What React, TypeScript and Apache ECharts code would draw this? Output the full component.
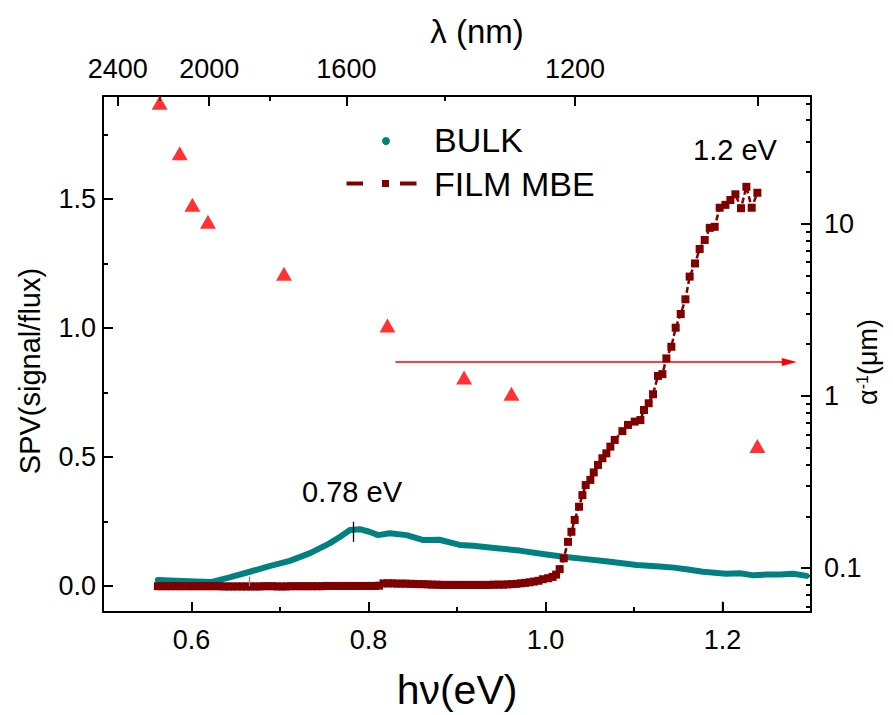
import React, { useEffect, useRef } from 'react';
import * as echarts from 'echarts';

// ---------- data ----------
const BULK_X = [0.562, 0.575, 0.590, 0.605, 0.622, 0.643, 0.666, 0.688, 0.711, 0.734, 0.756, 0.768, 0.779, 0.790, 0.801, 0.811, 0.824, 0.843, 0.862, 0.880, 0.903, 0.918, 0.945, 0.971, 0.997, 1.020, 1.046, 1.073, 1.103, 1.129, 1.145, 1.159, 1.178, 1.204, 1.220, 1.235, 1.250, 1.265, 1.280, 1.295];
const BULK_Y = [0.024, 0.022, 0.020, 0.018, 0.016, 0.034, 0.056, 0.078, 0.098, 0.128, 0.166, 0.192, 0.218, 0.221, 0.211, 0.198, 0.205, 0.198, 0.179, 0.180, 0.160, 0.157, 0.147, 0.138, 0.125, 0.114, 0.105, 0.095, 0.082, 0.076, 0.072, 0.066, 0.056, 0.048, 0.050, 0.042, 0.045, 0.045, 0.048, 0.040];

const FILM_POINTS: [number, number][] = [
  [0.562, 0.000], [0.567, 0.000], [0.572, 0.000], [0.577, 0.000], [0.582, 0.000],
  [0.587, 0.000], [0.592, 0.000], [0.597, 0.000], [0.602, 0.000], [0.607, 0.000],
  [0.612, 0.000], [0.617, 0.000], [0.622, 0.000], [0.627, 0.000], [0.632, 0.000],
  [0.637, -0.001], [0.642, -0.001], [0.647, -0.001], [0.652, -0.001], [0.657, -0.001],
  [0.662, -0.001], [0.667, -0.001], [0.672, -0.001], [0.677, -0.001], [0.682, 0.000],
  [0.687, 0.000], [0.692, 0.000], [0.697, -0.001], [0.702, -0.001], [0.707, -0.001],
  [0.712, 0.000], [0.717, 0.000], [0.722, 0.000], [0.727, 0.000], [0.732, 0.000],
  [0.737, 0.000], [0.742, 0.000], [0.747, 0.000], [0.752, 0.001], [0.757, 0.001],
  [0.762, 0.001], [0.767, 0.001], [0.772, 0.001], [0.777, 0.001], [0.782, 0.001],
  [0.787, 0.001], [0.792, 0.001], [0.797, 0.001], [0.802, 0.001], [0.807, 0.001],
  [0.812, 0.002], [0.817, 0.011], [0.822, 0.011], [0.827, 0.011], [0.832, 0.010],
  [0.837, 0.010], [0.842, 0.010], [0.847, 0.009], [0.852, 0.009], [0.857, 0.008],
  [0.862, 0.008], [0.867, 0.007], [0.872, 0.006], [0.877, 0.006], [0.882, 0.005],
  [0.887, 0.005], [0.892, 0.005], [0.897, 0.005], [0.902, 0.005], [0.907, 0.005],
  [0.912, 0.005], [0.917, 0.005], [0.922, 0.005], [0.927, 0.005], [0.932, 0.005],
  [0.937, 0.005], [0.942, 0.006], [0.947, 0.006], [0.952, 0.006], [0.957, 0.007],
  [0.962, 0.008], [0.967, 0.009], [0.972, 0.011], [0.977, 0.013], [0.982, 0.015],
  [0.987, 0.018], [0.992, 0.021], [0.997, 0.027], [1.003, 0.031], [1.008, 0.036],
  [1.012, 0.045], [1.016, 0.066], [1.0206, 0.108], [1.0254, 0.172], [1.0293, 0.211],
  [1.033, 0.257], [1.0379, 0.308], [1.0417, 0.353], [1.0454, 0.392], [1.0507, 0.412],
  [1.0545, 0.441], [1.0593, 0.470], [1.0643, 0.496], [1.0688, 0.515], [1.0733, 0.541],
  [1.0782, 0.567], [1.0869, 0.601], [1.0932, 0.625], [1.1008, 0.638], [1.1072, 0.644],
  [1.1113, 0.683], [1.1166, 0.709], [1.1215, 0.744], [1.1271, 0.815], [1.1321, 0.822],
  [1.1366, 0.883], [1.1422, 0.928], [1.1471, 1.002], [1.1528, 1.055], [1.1581, 1.112],
  [1.1629, 1.200], [1.1689, 1.251], [1.1742, 1.307], [1.1799, 1.342], [1.1856, 1.389],
  [1.1912, 1.393], [1.1968, 1.467], [1.2033, 1.478], [1.2089, 1.497], [1.2146, 1.519],
  [1.2209, 1.465], [1.2270, 1.548], [1.2330, 1.467], [1.2394, 1.525],
];

// inverse absorption length (um), right log axis
const ABS_X = [0.564, 0.5867, 0.601, 0.6186, 0.7045, 0.8214, 0.908, 0.9615, 1.2394];
const ABS_Y = [50.5, 25.7, 12.9, 10.3, 5.14, 2.57, 1.28, 1.03, 0.513];

// arrow pointing to right axis
const ARROW_X = [0.8304, 1.2754];
const ARROW_LEVEL = 1.575;

// small vertical markers
const MARK_X = [0.7825, 0.665, 1.1994];
const MARK_Y0 = [0.172, 0.0, -0.06];
const MARK_Y1 = [0.25, 0.037, -0.092];
const MARK_COLOR = ['#000000', '#888888', '#000000'];

// ticks
const X_MAJOR = [0.6, 0.8, 1.0, 1.2];
const X_MINOR = [0.7, 0.9, 1.1];
const Y_MAJOR = [0, 0.5, 1.0, 1.5];
const Y_MINOR = [0.25, 0.75, 1.25, 1.75];
const LAMBDA_LABELS = [2400, 2000, 1600, 1200];
const LAMBDA_MAJOR = [2400, 2000, 1600, 1200, 1000];
const LAMBDA_MINOR = [2200, 1800, 1400];
const R_MAJOR = [0.1, 1, 10];
const R_MINOR = [0.06, 0.07, 0.08, 0.09, 0.2, 0.3, 0.4, 0.5, 0.6, 0.7, 0.8, 0.9, 2, 3, 4, 5, 6, 7, 8, 9, 20, 30, 40, 50];

const X_MIN = 0.5, X_MAX = 1.3;
const Y_MIN = -0.1, Y_MAX = 1.9;
const R_MIN = 0.0557, R_MAX = 55.3;
const HC = 1240;

const W = 893, H = 715;
const G_LEFT = 103, G_RIGHT = 82, G_TOP = 96, G_BOTTOM = 103;
const MAJOR_LEN = 10, MINOR_LEN = 5;

const FONT = '"Liberation Sans", Arial, Helvetica, sans-serif';
const TEAL = '#008080';
const MAROON = '#800000';
const RED = '#ff0000';
const TICK_COLOR = '#000000';

const axisLine = { show: true, onZero: false, lineStyle: { color: '#000', width: 2 } };
const noLine = { show: false, onZero: false };

function tick(values: number[], length: number) {
  return { show: true, inside: true, length, customValues: values, lineStyle: { color: TICK_COLOR, width: 2 } };
}

function txt(text: string, x: number, y: number, size: number, align = 'center', rotation = 0) {
  return {
    type: 'text', x, y, rotation, silent: true,
    style: {
      text, font: `${size}px ${FONT}`, fill: '#000',
      textAlign: align, textVerticalAlign: 'middle', align, verticalAlign: 'middle',
    },
  };
}

export default function App() {
  const ref = useRef<HTMLDivElement>(null);
  useEffect(() => {
    document.body.style.margin = '0';
    const chart = echarts.init(ref.current!, null, { renderer: 'svg' });
    const labelStyle = { fontSize: 27, fontFamily: FONT, color: '#000' };
    const option: any = {
      animation: false,
      grid: { left: G_LEFT, right: G_RIGHT, top: G_TOP, bottom: G_BOTTOM },
      xAxis: [
        {
          type: 'value', position: 'bottom', min: X_MIN, max: X_MAX,
          axisLine, splitLine: { show: false },
          axisTick: tick(X_MAJOR, MAJOR_LEN),
          axisLabel: { ...labelStyle, margin: 14, customValues: X_MAJOR, formatter: (v: number) => v.toFixed(1) },
        },
        {
          type: 'value', position: 'bottom', min: X_MIN, max: X_MAX,
          axisLine: noLine, splitLine: { show: false },
          axisTick: tick(X_MINOR, MINOR_LEN), axisLabel: { show: false },
        },
        {
          type: 'value', position: 'top', min: X_MIN, max: X_MAX,
          axisLine, splitLine: { show: false },
          axisTick: tick(LAMBDA_MAJOR.map((l) => HC / l), MAJOR_LEN),
          axisLabel: {
            ...labelStyle, margin: 14,
            customValues: LAMBDA_LABELS.map((l) => HC / l),
            formatter: (v: number) => String(Math.round(HC / v)),
          },
        },
        {
          type: 'value', position: 'top', min: X_MIN, max: X_MAX,
          axisLine: noLine, splitLine: { show: false },
          axisTick: tick(LAMBDA_MINOR.map((l) => HC / l), MINOR_LEN), axisLabel: { show: false },
        },
      ],
      yAxis: [
        {
          type: 'value', position: 'left', min: Y_MIN, max: Y_MAX,
          axisLine, splitLine: { show: false },
          axisTick: tick(Y_MAJOR, MAJOR_LEN),
          axisLabel: { ...labelStyle, margin: 7, customValues: Y_MAJOR, formatter: (v: number) => v.toFixed(1) },
        },
        {
          type: 'value', position: 'left', min: Y_MIN, max: Y_MAX,
          axisLine: noLine, splitLine: { show: false },
          axisTick: tick(Y_MINOR, MINOR_LEN), axisLabel: { show: false },
        },
        {
          type: 'log', logBase: 10, position: 'right', min: R_MIN, max: R_MAX,
          axisLine, splitLine: { show: false },
          axisTick: tick(R_MAJOR, MAJOR_LEN),
          axisLabel: {
            ...labelStyle, margin: 13, customValues: R_MAJOR,
            formatter: (v: number) => (v < 1 ? v.toFixed(1) : String(Math.round(v))),
          },
        },
        {
          type: 'log', logBase: 10, position: 'right', min: R_MIN, max: R_MAX,
          axisLine: noLine, splitLine: { show: false },
          axisTick: tick(R_MINOR, MINOR_LEN), axisLabel: { show: false },
        },
      ],
      series: [
        {
          name: 'arrow', type: 'line', xAxisIndex: 0, yAxisIndex: 2,
          showSymbol: true, silent: true, z: 1,
          lineStyle: { color: RED, width: 1.5 },
          itemStyle: { color: RED },
          data: [
            { value: [ARROW_X[0], ARROW_LEVEL], symbol: 'none' },
            { value: [ARROW_X[1], ARROW_LEVEL], symbol: 'triangle', symbolSize: [8, 15], symbolRotate: -90 },
          ],
        },
        {
          name: 'BULK', type: 'line', xAxisIndex: 0, yAxisIndex: 0, z: 2,
          showSymbol: false, silent: true,
          lineStyle: { color: TEAL, width: 6, join: 'round', cap: 'round' },
          itemStyle: { color: TEAL },
          data: BULK_X.map((x, i) => [x, BULK_Y[i]]),
          markLine: {
            silent: true, symbol: ['none', 'none'], label: { show: false },
            lineStyle: { type: 'solid', width: 1.3, color: '#000' },
            data: MARK_X.map((x, i) => [
              { coord: [x, MARK_Y0[i]], lineStyle: { color: MARK_COLOR[i], type: 'solid', width: 1.3 } },
              { coord: [x, MARK_Y1[i]] },
            ]),
          },
        },
        {
          name: 'FILM MBE', type: 'line', xAxisIndex: 0, yAxisIndex: 0, z: 3,
          showSymbol: true, symbol: 'rect', symbolSize: 8, silent: true,
          lineStyle: { color: MAROON, width: 2.5, type: [6, 3] },
          itemStyle: { color: MAROON },
          data: FILM_POINTS,
        },
        {
          name: 'alpha', type: 'scatter', xAxisIndex: 0, yAxisIndex: 2, z: 4,
          symbol: 'triangle', symbolSize: [16, 14], silent: true,
          itemStyle: { color: RED },
          data: ABS_X.map((x, i) => [x, ABS_Y[i]]),
        },
      ],
      graphic: [
        txt('λ (nm)', 477, 31, 33),
        txt('hν(eV)', 457, 690, 41),
        txt('SPV(signal/flux)', 30, 371, 29, 'center', Math.PI / 2),
        {
          type: 'text', x: 868, y: 362, rotation: Math.PI / 2, silent: true,
          style: {
            text: '{a|α}{s|-1}{a|(μm)}',
            rich: {
              a: { fontSize: 27, fontFamily: FONT, fill: '#000' },
              s: { fontSize: 16, fontFamily: FONT, fill: '#000', verticalAlign: 'top' },
            },
            textAlign: 'center', textVerticalAlign: 'middle', align: 'center', verticalAlign: 'middle',
          },
        },
        txt('0.78 eV', 352, 492, 29),
        txt('1.2 eV', 735, 150, 29),
        // legend
        { type: 'circle', silent: true, shape: { cx: 386, cy: 141, r: 4 }, style: { fill: TEAL } },
        txt('BULK', 434, 140, 34, 'left'),
        { type: 'rect', silent: true, shape: { x: 346.5, y: 181.5, width: 16.5, height: 4 }, style: { fill: MAROON } },
        { type: 'rect', silent: true, shape: { x: 382, y: 180, width: 7, height: 7 }, style: { fill: MAROON } },
        { type: 'rect', silent: true, shape: { x: 400, y: 181.5, width: 16.5, height: 4 }, style: { fill: MAROON } },
        txt('FILM MBE', 434, 184, 34, 'left'),
      ],
    };
    chart.setOption(option);
    return () => chart.dispose();
  }, []);
  return <div ref={ref} style={{ width: W, height: H }} />;
}
